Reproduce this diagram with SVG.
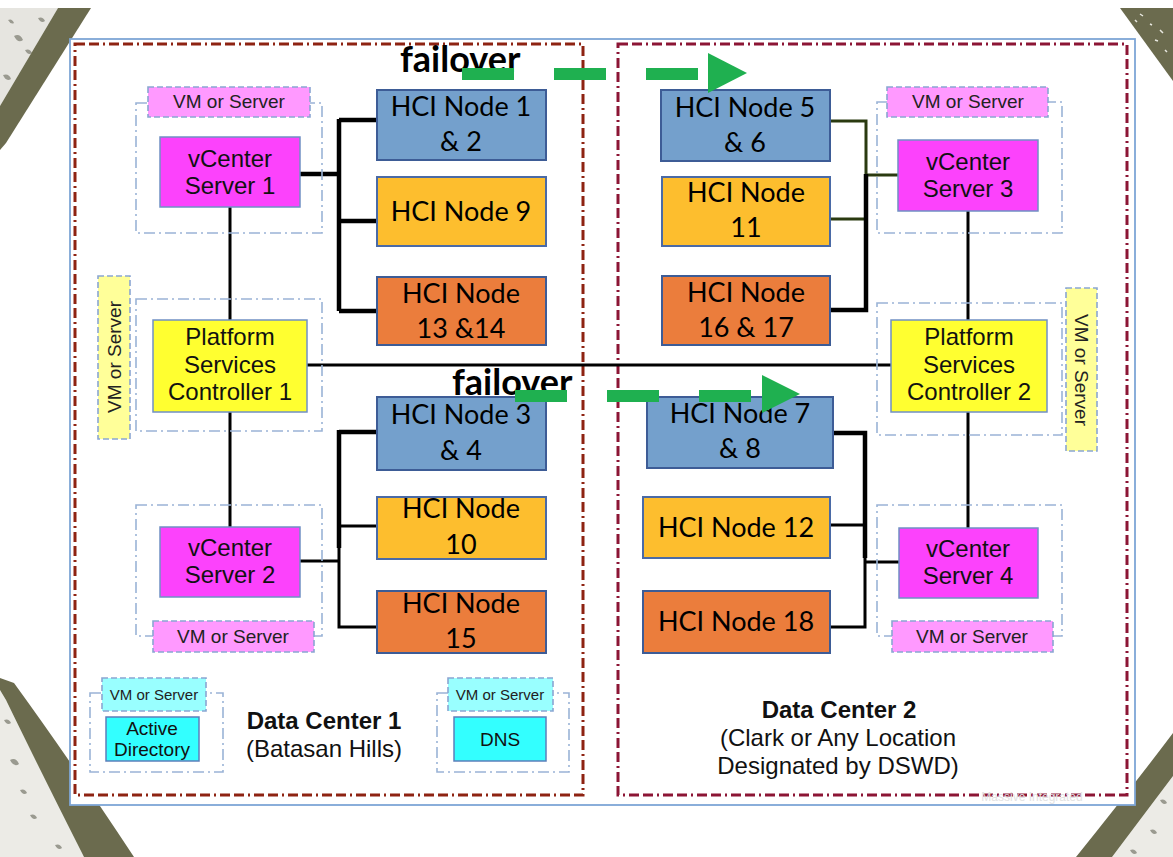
<svg xmlns="http://www.w3.org/2000/svg" width="1173" height="857" viewBox="0 0 1173 857">
<style>
.ff{font-family:"Liberation Sans",Arial,sans-serif;}
.cal{font-family:Lato,"Liberation Sans",sans-serif;}
.hci{font-size:27px;text-anchor:middle;fill:#000;}
.vc{font-size:24px;text-anchor:middle;fill:#111;}
.vm{font-size:19px;text-anchor:middle;fill:#222;}
.vms{font-size:15px;text-anchor:middle;fill:#222;}
.ad{font-size:19px;text-anchor:middle;fill:#111;}
.dct{font-size:24px;text-anchor:middle;fill:#111;}
.bold{font-weight:bold;}
.blue{fill:#74A0CC;stroke:#3D5C96;stroke-width:2;}
.yel{fill:#FDBE2E;stroke:#4A6AA6;stroke-width:2;}
.org{fill:#EB7D3C;stroke:#3D5C96;stroke-width:2;}
.mag{fill:#FC42FC;stroke:#7090C4;stroke-width:1.5;}
.psc{fill:#FFFF30;stroke:#7090C4;stroke-width:1.5;}
.cont{fill:none;stroke:#9AB3D6;stroke-width:1.6;stroke-dasharray:11 4 2 4;}
.pink{fill:#FF99FF;stroke:#8AA6D2;stroke-width:1.6;stroke-dasharray:6 3;}
.pyel{fill:#FFFF99;stroke:#8AA6D2;stroke-width:1.6;stroke-dasharray:6 3;}
.lcy{fill:#99FFFF;stroke:#8AA6D2;stroke-width:1.6;stroke-dasharray:6 3;}
.cy{fill:#33FFFF;stroke:#5C7FBA;stroke-width:1.5;}
.ln{fill:none;stroke:#000;stroke-width:3;}
.lnb{fill:none;stroke:#000;stroke-width:4.5;}
.olv{fill:none;stroke:#2A3A10;stroke-width:3;}
.grn{fill:none;stroke:#1FB050;stroke-width:12;stroke-dasharray:52 40;}
</style>
<rect x="0" y="0" width="1173" height="857" fill="#fff"/>
<g id="decor">
  <polygon points="0,8 58,8 0,106" fill="#e6e5e0"/>
  <path d="M14,36 q6,-3 9,4 q-5,4 -9,-4z M38,18 q5,-2 7,3 q-4,3 -7,-3z M3,75 q6,-2 8,4 q-5,3 -8,-4z M25,50 q5,-2 7,3 q-4,3 -7,-3z M8,20 q4,-2 6,3 q-3,2 -6,-3z" fill="#9a9a90"/>
  <polygon points="58,8 91,8 6,143 0,150 0,106" fill="#6B6B4E"/>
  <polygon points="1120,8 1173,8 1173,81" fill="#6B6B4E"/>
  <path d="M1140,14 l3,2 M1150,24 l2,1 M1160,30 l3,3 M1135,20 l2,2 M1165,50 l2,2 M1155,40 l3,1" stroke="#e8e8e0" stroke-width="1.5"/>
  <polygon points="0,690 6,700 84,857 0,857" fill="#ecebe6"/>
  <path d="M10,760 q6,-3 9,4 q-5,4 -9,-4z M30,815 q5,-2 7,3 q-4,3 -7,-3z M55,845 q5,-2 7,3 q-4,3 -7,-3z M4,720 q5,-2 7,3 q-4,3 -7,-3z M20,790 q5,-2 7,3 q-4,3 -7,-3z" fill="#9a9a90"/>
  <path d="M0,678 L14,683 Q70,760 134,857 L84,857 Q40,770 6,700 L0,690z" fill="#6B6B4E"/>
  <polygon points="1173,776 1173,857 1112,857" fill="#ecebe6"/>
  <path d="M1150,830 q5,-2 7,3 q-4,3 -7,-3z M1130,850 q5,-2 7,3 q-4,3 -7,-3z M1160,800 q5,-2 7,3 q-4,3 -7,-3z" fill="#9a9a90"/>
  <path d="M1173,733 L1173,776 L1112,857 L1076,857 Q1130,790 1173,733z" fill="#6B6B4E"/>
</g>
<rect x="70" y="39" width="1065" height="766" fill="#fff" stroke="#7EA6D6" stroke-width="1.8"/>
<g id="dc1">
  <rect x="75" y="44" width="508" height="751" fill="none" stroke="#8E2312" stroke-width="3" stroke-dasharray="10 4 10 4 2 4"/>
  <text class="ff dct bold" x="324" y="729">Data Center 1</text>
  <text class="ff dct" x="324" y="757">(Batasan Hills)</text>
</g>
<g id="dc2">
  <rect x="618" y="44" width="509" height="751" fill="none" stroke="#8C1535" stroke-width="3" stroke-dasharray="10 4 10 4 2 4"/>
  <text class="ff dct bold" x="839" y="718">Data Center 2</text>
  <text class="ff dct" x="838" y="746">(Clark or Any Location</text>
  <text class="ff dct" x="838" y="774">Designated by DSWD)</text>
  <text class="ff" x="1032" y="801" font-size="12" text-anchor="middle" fill="#e2e2e2">Massive Integrated</text>
</g>
<g id="connectors">
  <path class="lnb" d="M300,174 H339 M339,119 V311 M339,120 H377 M339,221 H377 M339,311 H377"/>
  <path class="ln" d="M230,207 V320 M230,412 V527 M307,365 H891"/>
  <path class="lnb" d="M339,432 H377 M339,430 V548"/>
  <path class="ln" d="M339,540 V627 H377 M339,526 H377 M299,561 H339"/>
  <path class="olv" d="M830,121 H866 V175 M830,219 H866 M866,175 H898"/>
  <path class="lnb" d="M866,174 V310 H830"/>
  <path class="ln" d="M968,211 V320 M968,412 V528"/>
  <path class="lnb" d="M833,433 H865 V558"/>
  <path class="ln" d="M830,525 H865 M865,515 V627 H830 M865,562 H899"/>
</g>
<g id="vcenter1">
  <rect class="cont" x="136" y="103" width="186" height="130"/>
  <rect class="pink" x="148" y="87" width="162" height="30"/>
  <text class="ff vm" x="229" y="108">VM or Server</text>
  <rect class="mag" x="160" y="137" width="140" height="70"/>
  <text class="ff vc" x="230" y="167">vCenter</text>
  <text class="ff vc" x="230" y="194">Server 1</text>
</g>
<g id="psc1">
  <rect class="cont" x="136" y="299" width="186" height="132"/>
  <rect class="pyel" x="98" y="276" width="32" height="163"/>
  <text class="ff vm" transform="translate(121,357) rotate(-90)">VM or Server</text>
  <rect class="psc" x="153" y="320" width="154" height="92"/>
  <text class="ff vc" x="230" y="345">Platform</text>
  <text class="ff vc" x="230" y="373">Services</text>
  <text class="ff vc" x="230" y="400">Controller 1</text>
</g>
<g id="vcenter2">
  <rect class="cont" x="136" y="505" width="186" height="131"/>
  <rect class="mag" x="160" y="527" width="140" height="70"/>
  <text class="ff vc" x="230" y="556">vCenter</text>
  <text class="ff vc" x="230" y="583">Server 2</text>
  <rect class="pink" x="153" y="621" width="161" height="31"/>
  <text class="ff vm" x="233" y="643">VM or Server</text>
</g>
<g id="hci1">
  <rect class="blue" x="377" y="90" width="169" height="70"/>
  <text class="cal hci" x="461" y="116">HCI Node 1</text>
  <text class="cal hci" x="461" y="151">&amp; 2</text>
</g>
<g id="hci9">
  <rect class="yel" x="377" y="177" width="169" height="69"/>
  <text class="cal hci" x="461" y="221">HCI Node 9</text>
</g>
<g id="hci13">
  <rect class="org" x="377" y="277" width="169" height="68"/>
  <text class="cal hci" x="461" y="303">HCI Node</text>
  <text class="cal hci" x="461" y="338">13 &amp;14</text>
</g>
<g id="hci3">
  <rect class="blue" x="377" y="397" width="169" height="73"/>
  <text class="cal hci" x="461" y="424">HCI Node 3</text>
  <text class="cal hci" x="461" y="460">&amp; 4</text>
</g>
<g id="hci10">
  <rect class="yel" x="377" y="497" width="169" height="62"/>
  <text class="cal hci" x="461" y="518">HCI Node</text>
  <text class="cal hci" x="461" y="554">10</text>
</g>
<g id="hci15">
  <rect class="org" x="377" y="591" width="169" height="62"/>
  <text class="cal hci" x="461" y="613">HCI Node</text>
  <text class="cal hci" x="461" y="648">15</text>
</g>
<g id="ad">
  <rect class="cont" x="90" y="693" width="133" height="79"/>
  <rect class="lcy" x="102" y="678" width="104" height="33"/>
  <text class="ff vms" x="154" y="700">VM or Server</text>
  <rect class="cy" x="106" y="717" width="93" height="44"/>
  <text class="ff ad" x="152" y="735">Active</text>
  <text class="ff ad" x="152" y="756">Directory</text>
</g>
<g id="dns">
  <rect class="cont" x="437" y="693" width="132" height="79"/>
  <rect class="lcy" x="448" y="678" width="105" height="33"/>
  <text class="ff vms" x="500" y="700">VM or Server</text>
  <rect class="cy" x="454" y="717" width="92" height="44"/>
  <text class="ff ad" x="500" y="746">DNS</text>
</g>
<g id="hci5">
  <rect class="blue" x="661" y="90" width="169" height="71"/>
  <text class="cal hci" x="745" y="117">HCI Node 5</text>
  <text class="cal hci" x="745" y="152">&amp; 6</text>
</g>
<g id="hci11">
  <rect class="yel" x="662" y="177" width="168" height="69"/>
  <text class="cal hci" x="746" y="202">HCI Node</text>
  <text class="cal hci" x="746" y="237">11</text>
</g>
<g id="hci16">
  <rect class="org" x="662" y="276" width="168" height="69"/>
  <text class="cal hci" x="746" y="302">HCI Node</text>
  <text class="cal hci" x="746" y="337">16 &amp; 17</text>
</g>
<g id="vcenter3">
  <rect class="cont" x="877" y="102" width="185" height="131"/>
  <rect class="pink" x="887" y="87" width="161" height="30"/>
  <text class="ff vm" x="968" y="108">VM or Server</text>
  <rect class="mag" x="898" y="140" width="140" height="71"/>
  <text class="ff vc" x="968" y="170">vCenter</text>
  <text class="ff vc" x="968" y="197">Server 3</text>
</g>
<g id="psc2">
  <rect class="cont" x="877" y="303" width="185" height="132"/>
  <rect class="pyel" x="1066" y="288" width="31" height="163"/>
  <text class="ff vm" transform="translate(1075,370) rotate(90)">VM or Server</text>
  <rect class="psc" x="891" y="320" width="156" height="92"/>
  <text class="ff vc" x="969" y="345">Platform</text>
  <text class="ff vc" x="969" y="373">Services</text>
  <text class="ff vc" x="969" y="400">Controller 2</text>
</g>
<g id="hci7">
  <rect class="blue" x="647" y="397" width="186" height="71"/>
  <text class="cal hci" x="740" y="423">HCI Node 7</text>
  <text class="cal hci" x="740" y="458">&amp; 8</text>
</g>
<g id="hci12">
  <rect class="yel" x="643" y="497" width="187" height="61"/>
  <text class="cal hci" x="736" y="537">HCI Node 12</text>
</g>
<g id="hci18">
  <rect class="org" x="643" y="591" width="187" height="62"/>
  <text class="cal hci" x="736" y="631">HCI Node 18</text>
</g>
<g id="vcenter4">
  <rect class="cont" x="877" y="505" width="185" height="131"/>
  <rect class="mag" x="899" y="528" width="139" height="70"/>
  <text class="ff vc" x="968" y="557">vCenter</text>
  <text class="ff vc" x="968" y="584">Server 4</text>
  <rect class="pink" x="892" y="621" width="161" height="31"/>
  <text class="ff vm" x="972" y="643">VM or Server</text>
</g>
<g id="failover">
  <text class="cal bold" x="400" y="72" font-size="36" fill="#000">failover</text>
  <text class="cal bold" x="452" y="395" font-size="36" fill="#000">failover</text>
  <path class="grn" d="M462,74 H698"/>
  <polygon points="708,53 708,93 747,73" fill="#1FB050"/>
  <path class="grn" d="M515,396 H751"/>
  <polygon points="762,375 762,413 800,394" fill="#1FB050"/>
</g>
</svg>
